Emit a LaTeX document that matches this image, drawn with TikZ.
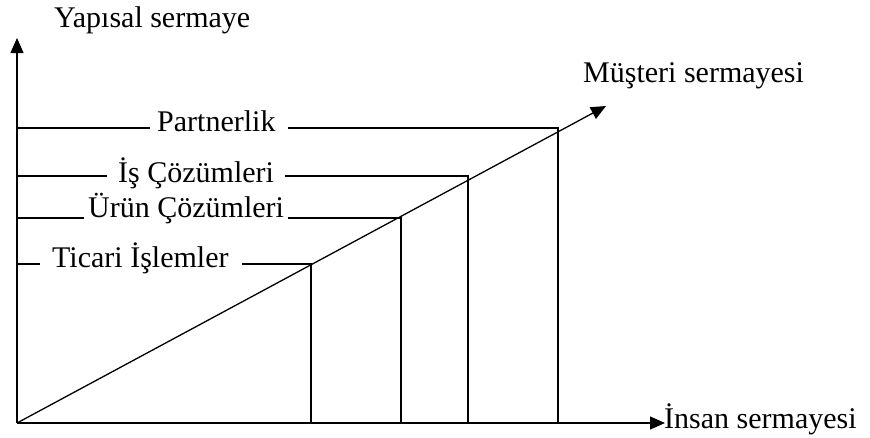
\documentclass[tikz,border=0pt]{standalone}
\usepackage{fontspec}
\setmainfont{Liberation Serif}
\usetikzlibrary{arrows.meta}
\begin{document}
\begin{tikzpicture}[x=1pt,y=-1pt,
  ln/.style={line width=1.3pt},
  arr/.style={ln,-{Triangle[length=15pt,width=13pt]}},
  lbl/.style={inner sep=0pt,anchor=base west,font=\fontsize{30}{34}\selectfont}]
\useasboundingbox (0,0) rectangle (870,437);
% axes
\coordinate (O) at (17,423);
\coordinate (Ytip) at (17,38);
\coordinate (Xtip) at (665,423);
\coordinate (Dtip) at (606,106);
\draw[arr] (O) -- (Ytip);
\draw[arr] (O) -- (Xtip);
\draw[arr] (O) -- (Dtip);
% axis labels
\node[lbl] (ylab) at (54,27) {Yapısal sermaye};
\node[lbl] (dlab) at (583,82) {Müşteri sermayesi};
\node[lbl] (xlab) at (664,428) {İnsan sermayesi};
% level points on diagonal
\coordinate (P4) at (558,128);
\coordinate (P3) at (468,176);
\coordinate (P2) at (401,218);
\coordinate (P1) at (311,264);
% labels
\node[lbl] (l4) at (157,131) {Partnerlik};
\node[lbl] (l3) at (118,182) {İş Çözümleri};
\node[lbl] (l2) at (88,217) {Ürün Çözümleri};
\node[lbl] (l1) at (52,267) {Ticari İşlemler};
% horizontal lines
\draw[ln] (O |- P4) -- (150,128);
\draw[ln] (288,128) -- (P4) -- (O -| P4);
\draw[ln] (O |- P3) -- (107,176);
\draw[ln] (285,176) -- (P3) -- (O -| P3);
\draw[ln] (O |- P2) -- (84,218);
\draw[ln] (288,218) -- (P2) -- (O -| P2);
\draw[ln] (O |- P1) -- (40,264);
\draw[ln] (242,264) -- (P1) -- (O -| P1);
\end{tikzpicture}
\end{document}
